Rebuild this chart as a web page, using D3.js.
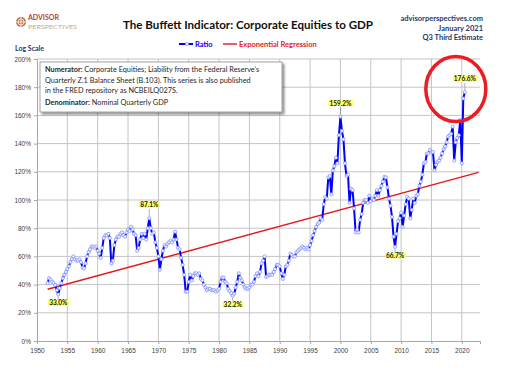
<!DOCTYPE html>
<html>
<head>
<meta charset="utf-8">
<script src="https://cdnjs.cloudflare.com/ajax/libs/d3/7.8.5/d3.min.js"></script>
<style>
  body { margin: 0; background: #fff; }
  svg { display: block; font-family: Lato, "Open Sans", sans-serif; }
</style>
</head>
<body>
<div id="chart"></div>
<script>
// quarterly corporate equities / GDP, in %, starting 1951 Q4
const startYear = 1951
const startQuarter = 4
const ratio = [
  41,                       // 1951
  44.6, 43.5, 42, 41,       // 1952
  39.7, 36, 33.0, 37.4,     // 1953
  41, 44.5, 47, 49,         // 1954
  51, 53, 56, 58,           // 1955
  60, 58, 57, 57,           // 1956
  58, 56, 52, 51.5,         // 1957
  55, 60, 63, 65,           // 1958
  67, 67, 66, 67,           // 1959
  64, 62, 59, 66,           // 1960
  73, 75, 75, 76,           // 1961
  73, 55, 57, 68,           // 1962
  72, 74, 74, 76,           // 1963
  77, 75, 74, 77,           // 1964
  79, 78, 81, 79,           // 1965
  76, 75, 64, 66,           // 1966
  72, 76, 73, 76,           // 1967
  72, 80, 87.1, 80,         // 1968
  76, 77, 70, 66,           // 1969
  60, 50.5, 58, 64,         // 1970
  68, 67, 69, 70,           // 1971
  71, 70, 72, 77.5,         // 1972
  72, 66, 65, 59,           // 1973
  54, 47, 35, 35,           // 1974
  42, 47, 43, 46,           // 1975
  48, 48, 47, 48,           // 1976
  44, 43, 40, 38,           // 1977
  36, 37, 37, 36,           // 1978
  36, 36, 35, 36,           // 1979
  37, 42, 45, 45,           // 1980
  42, 41, 37, 35.5,         // 1981
  34, 32.2, 33.5, 38,       // 1982
  42, 48, 45, 43,           // 1983
  40, 38, 37, 37,           // 1984
  38, 40, 40, 42,           // 1985
  46, 48, 46, 49,           // 1986
  55, 57, 60, 45.5,         // 1987
  46, 47, 47, 47,           // 1988
  49, 51, 54, 54,           // 1989
  53, 48, 44, 47,           // 1990
  53, 54, 57, 62,           // 1991
  61, 60, 60, 63,           // 1992
  64, 65, 66, 67,           // 1993
  66, 65, 66, 65,           // 1994
  68, 71, 75, 78,           // 1995
  81, 83, 84, 87,           // 1996
  86, 97, 102, 101,         // 1997
  116, 117, 104, 121,       // 1998
  124, 130, 126, 146,       // 1999
  159.2, 149, 143, 126,     // 2000
  117, 118, 98, 108,        // 2001
  107, 94, 77, 79,          // 2002
  77, 86, 90, 98,           // 2003
  100, 100, 98, 103,        // 2004
  99, 101, 100, 103,        // 2005
  107, 103, 107, 110,       // 2006
  113, 116.5, 116, 109,     // 2007
  101, 96, 88, 74,          // 2008
  66.7, 76, 85, 87,         // 2009
  91, 81, 89, 97,           // 2010
  102, 101, 87, 93,         // 2011
  101, 98, 103, 104,        // 2012
  110, 113, 118, 126,       // 2013
  127, 133, 133, 135.5,     // 2014
  134, 134, 121, 125,       // 2015
  127, 128, 130, 133,       // 2016
  136, 138, 141, 145,       // 2017
  146, 147, 152, 128,       // 2018
  141, 144, 146, 156.7,     // 2019
  126, 172, 176.6           // 2020
]

// exponential regression, end points
const regressionYears = [1951.75, 2022.75]
const regressionValues = [36.7, 119.6]

const yTicks = d3.range(0, 201, 20)
const xTicks = d3.range(1950, 2021, 5)

// highlighted values: [year, quarter, label, side]
const callouts = [
  [1953, 3, '33.0%', 'below'],
  [1968, 3, '87.1%', 'above'],
  [1982, 2, '32.2%', 'below'],
  [2000, 1, '159.2%', 'above'],
  [2009, 1, '66.7%', 'below'],
  [2020, 3, '176.6%', 'above']
]

const noteLines = [
  ['Numerator:', ' Corporate Equities; Liability from the Federal Reserve\u2019s'],
  ['', 'Quarterly Z.1 Balance Sheet (B.103). This series is also published'],
  ['', 'in the FRED repository  as NCBEILQ027S.'],
  ['Denominator:', ' Nominal Quarterly GDP']
]

const dims = { width: 511, height: 373, left: 37, right: 480, top: 59, bottom: 341 }

const dateOf = (i) => startYear + (startQuarter - 1 + i) / 4
const series = ratio.map((v, i) => ({ t: dateOf(i), v }))

const x = d3.scaleLinear().domain([1950, 2023]).range([dims.left, dims.right])
const y = d3.scaleLinear().domain([0, 200]).range([dims.bottom, dims.top])

const svg = d3.select('#chart').append('svg')
  .attr('width', dims.width)
  .attr('height', dims.height)

const defs = svg.append('defs')
defs.append('filter').attr('id', 'shadow')
  .attr('x', '-5%').attr('y', '-10%').attr('width', '115%').attr('height', '140%')
  .append('feDropShadow')
  .attr('dx', 2).attr('dy', 2).attr('stdDeviation', 1.2)
  .attr('flood-color', '#000').attr('flood-opacity', 0.45)

// grid
svg.append('g')
  .selectAll('line')
  .data(yTicks.filter(d => d > 0))
  .join('line')
  .attr('x1', dims.left).attr('x2', dims.right)
  .attr('y1', d => y(d)).attr('y2', d => y(d))
  .attr('stroke', '#c4c4c4').attr('stroke-width', 1)

svg.append('g')
  .selectAll('line')
  .data(xTicks.filter(d => d > 1950))
  .join('line')
  .attr('x1', d => x(d)).attr('x2', d => x(d))
  .attr('y1', dims.top).attr('y2', dims.bottom)
  .attr('stroke', '#c4c4c4').attr('stroke-width', 1)

// axes
const yAxis = d3.axisLeft(y).tickValues(yTicks).tickFormat(d => d + '%').tickSize(3).tickPadding(3)
const yAxisGroup = svg.append('g')
  .attr('transform', `translate(${dims.left},0)`)
  .call(yAxis)
yAxisGroup.select('.domain').attr('stroke', '#a6a6a6')
yAxisGroup.selectAll('.tick line').attr('stroke', '#a6a6a6')
yAxisGroup.selectAll('text').attr('fill', '#404040').style('font-size', '6.5px')

const xAxis = d3.axisBottom(x).tickValues(xTicks).tickFormat(d3.format('d')).tickSize(3).tickPadding(4)
const xAxisGroup = svg.append('g')
  .attr('transform', `translate(0,${dims.bottom})`)
  .call(xAxis)
xAxisGroup.select('.domain').attr('stroke', '#a6a6a6')
xAxisGroup.selectAll('.tick line').attr('stroke', '#a6a6a6')
xAxisGroup.selectAll('text').attr('fill', '#404040').style('font-size', '6.5px')

// regression
svg.append('line')
  .attr('x1', x(regressionYears[0])).attr('y1', y(regressionValues[0]))
  .attr('x2', x(regressionYears[1])).attr('y2', y(regressionValues[1]))
  .attr('stroke', '#e3191c').attr('stroke-width', 1.4)

// ratio line and markers
const line = d3.line().x(d => x(d.t)).y(d => y(d.v))
svg.append('path')
  .datum(series)
  .attr('d', line)
  .attr('fill', 'none')
  .attr('stroke', '#0000ff')
  .attr('stroke-width', 2)
  .attr('stroke-linejoin', 'round')

svg.append('g')
  .selectAll('circle')
  .data(series)
  .join('circle')
  .attr('cx', d => x(d.t))
  .attr('cy', d => y(d.v))
  .attr('r', 1.6)
  .attr('fill', '#eef2ff')
  .attr('stroke', '#7d8cff')
  .attr('stroke-width', 0.7)

// callouts
const calloutGroup = svg.append('g')
callouts.forEach(([yr, q, label, side]) => {
  const px = x(yr + (q - 1) / 4)
  const py = y(+label.replace('%', ''))
  const ty = side === 'above' ? py - 11 : py + 11
  calloutGroup.append('line')
    .attr('x1', px).attr('x2', px)
    .attr('y1', side === 'above' ? py - 2 : py + 2)
    .attr('y2', side === 'above' ? ty + 2 : ty - 3)
    .attr('stroke', '#808080').attr('stroke-width', 0.6)
  const t = calloutGroup.append('text')
    .attr('x', px).attr('y', ty)
    .attr('text-anchor', 'middle')
    .style('font-size', '6.5px').style('font-weight', 'bold')
    .attr('fill', '#1a1a1a')
    .text(label)
  const bb = t.node().getBBox()
  calloutGroup.insert('rect', () => t.node())
    .attr('x', bb.x - 1).attr('y', bb.y + 0.5)
    .attr('width', bb.width + 2).attr('height', bb.height - 1)
    .attr('fill', '#ffff66')
})

// red circle around latest value
const last = series[series.length - 1]
svg.append('ellipse')
  .attr('cx', x(last.t) - 9).attr('cy', y(last.v) - 3)
  .attr('rx', 30).attr('ry', 32.5)
  .attr('fill', 'none')
  .attr('stroke', '#ec1c24')
  .attr('stroke-width', 3.5)

// note box
const note = svg.append('g')
note.append('rect')
  .attr('x', 40).attr('y', 62).attr('width', 242).attr('height', 50)
  .attr('fill', '#fff').attr('stroke', '#8c8c8c').attr('stroke-width', 0.8)
  .attr('filter', 'url(#shadow)')
const noteY = [72, 82.5, 93, 105]
noteLines.forEach(([bold, rest], i) => {
  const t = note.append('text')
    .attr('x', 45).attr('y', noteY[i])
    .style('font-size', '7.3px').attr('fill', '#262626')
  t.append('tspan').style('font-weight', 'bold').text(bold)
  t.append('tspan').text(rest)
})

// title and header texts
svg.append('text')
  .attr('x', 248).attr('y', 29)
  .attr('text-anchor', 'middle')
  .attr('textLength', 250).attr('lengthAdjust', 'spacingAndGlyphs')
  .style('font-size', '12px').style('font-weight', 'bold')
  .attr('fill', '#111')
  .text('The Buffett Indicator: Corporate Equities to GDP')

const sideText = ['advisorperspectives.com', 'January 2021', 'Q3 Third Estimate']
svg.append('g')
  .selectAll('text')
  .data(sideText)
  .join('text')
  .attr('x', 483)
  .attr('y', (d, i) => 21 + i * 9.5)
  .attr('text-anchor', 'end')
  .style('font-size', '7.5px').style('font-weight', 'bold')
  .attr('fill', '#1f3864')
  .text(d => d)

svg.append('text')
  .attr('x', 15).attr('y', 51)
  .style('font-size', '7px').style('font-weight', 'bold')
  .attr('fill', '#1f3864')
  .text('Log Scale')

// legend
const legend = svg.append('g').attr('transform', 'translate(179,44)')
legend.append('line').attr('x1', 0).attr('x2', 14).attr('stroke', '#0000ff').attr('stroke-width', 2)
legend.append('circle').attr('cx', 8).attr('r', 1.6)
  .attr('fill', '#eef2ff').attr('stroke', '#7d8cff').attr('stroke-width', 0.7)
legend.append('text').attr('x', 16).attr('y', 2.6)
  .style('font-size', '7.5px').style('font-weight', 'bold').attr('fill', '#0000ff')
  .text('Ratio')
legend.append('line').attr('x1', 44).attr('x2', 58).attr('stroke', '#e3191c').attr('stroke-width', 1.4)
legend.append('text').attr('x', 60).attr('y', 2.6)
  .style('font-size', '7.5px').style('font-weight', 'bold').attr('fill', '#e3191c')
  .text('Exponential Regression')

// logo
const logo = svg.append('g').attr('transform', 'translate(21,22)')
logo.append('circle').attr('r', 5).attr('fill', '#c0704a')
logo.append('circle').attr('r', 3).attr('fill', 'none').attr('stroke', '#fff').attr('stroke-width', 0.8)
logo.append('path').attr('d', 'M0,-5V5M-5,0H5').attr('stroke', '#fff').attr('stroke-width', 0.8)
logo.append('text').attr('x', 7).attr('y', -1.6)
  .style('font-size', '7px').style('font-weight', 'bold').attr('fill', '#b0442a')
  .text('ADVISOR')
logo.append('text').attr('x', 7).attr('y', 6.6)
  .attr('textLength', 49).attr('lengthAdjust', 'spacingAndGlyphs')
  .style('font-size', '6px').attr('fill', '#c9a886')
  .text('PERSPECTIVES')
</script>
</body>
</html>
